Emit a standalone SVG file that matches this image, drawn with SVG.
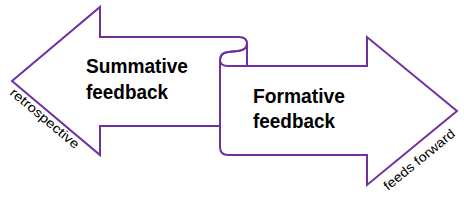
<svg xmlns="http://www.w3.org/2000/svg" width="464" height="201" viewBox="0 0 464 201">
<style>
.ol{fill:#fff;stroke:#7030A0;stroke-width:2;stroke-linejoin:miter;}
.ln{fill:none;stroke:#7030A0;stroke-width:2;}
.big{font-family:"Liberation Sans",Arial,sans-serif;font-weight:bold;font-size:20px;fill:#000;}
.sm{font-family:"Liberation Sans",Arial,sans-serif;font-size:13px;fill:#000;}
</style>
<rect width="464" height="201" fill="#fff"/>
<g id="summative">
<path class="ol" d="M12,81 L100,7 L100,37 L239,37 Q247,37 247,44 Q247,50 238,51 L228,52 Q220,53 220,60 L220,126 L100,126 L100,155 Z"/>
</g>
<g id="formative">
<path class="ol" d="M220,60 Q220,66 228,66 L367,66 L367,37 L457,111 L367,185 L367,155 L228,155 Q220,155 220,147 Z"/>
<path class="ln" d="M247,44 L247,66"/>
<path class="ln" d="M220,60 Q220,53 228,52 L238,51 Q247,50 247,44"/>
</g>
<g id="labels">
<text class="big" x="86" y="73" textLength="102" lengthAdjust="spacingAndGlyphs">Summative</text>
<text class="big" x="86" y="99" textLength="82" lengthAdjust="spacingAndGlyphs">feedback</text>
<text class="big" x="253" y="103" textLength="92" lengthAdjust="spacingAndGlyphs">Formative</text>
<text class="big" x="253" y="128" textLength="82" lengthAdjust="spacingAndGlyphs">feedback</text>
<text class="sm" transform="translate(9,94) rotate(40)" x="0" y="0" textLength="86" lengthAdjust="spacingAndGlyphs">retrospective</text>
<text class="sm" transform="translate(388,191) rotate(-39.4)" x="0" y="0" textLength="88" lengthAdjust="spacingAndGlyphs">feeds forward</text>
</g>
<g id="connectors"></g>
</svg>
